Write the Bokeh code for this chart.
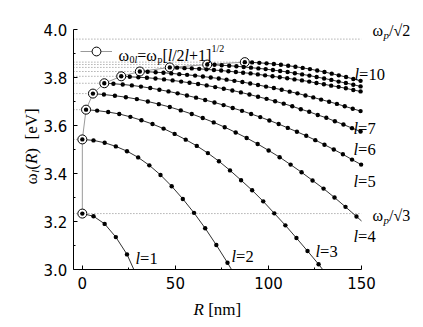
import math
from bokeh.plotting import figure
from bokeh.models import (Range1d, FixedTicker, PrintfTickFormatter, Label,
                          Legend, LegendItem)
from bokeh.embed import file_html
from bokeh.resources import INLINE

# ---------------- data ----------------
l_values = [1, 2, 3, 4, 5, 6, 7, 8, 9, 10]

R_l1 = [0, 6, 12, 18, 24, 30]
W_l1 = [3.233, 3.222, 3.190, 3.135, 3.063, 2.960]

R_l2 = [0, 6, 12, 18, 24, 30, 36, 42, 48, 54, 60, 66, 72, 78, 84]
W_l2 = [3.542, 3.538, 3.528, 3.513, 3.493, 3.467, 3.434, 3.394, 3.347,
        3.294, 3.236, 3.172, 3.102, 3.028, 2.950]

R_l3 = [2.0, 7.95, 13.9, 19.85, 25.8, 31.75, 37.7, 43.65, 49.6, 55.55, 61.5,
        67.45, 73.4, 79.35, 85.3, 91.25, 97.2, 103.15, 109.1, 115.05, 121.0,
        126.95, 132.9]
W_l3 = [3.666, 3.662, 3.656, 3.648, 3.636, 3.622, 3.606, 3.587, 3.565, 3.541,
        3.515, 3.485, 3.451, 3.413, 3.372, 3.330, 3.284, 3.234, 3.184, 3.131,
        3.077, 3.022, 2.962]

R_l4 = [5.7, 11.6, 17.5, 23.4, 29.3, 35.2, 41.1, 47.0, 52.9, 58.8, 64.7, 70.6,
        76.5, 82.4, 88.3, 94.2, 100.1, 106.0, 111.9, 117.8, 123.7, 129.6,
        135.5, 141.4, 147.3, 153.2]
W_l4 = [3.733, 3.729, 3.724, 3.718, 3.710, 3.700, 3.689, 3.677, 3.663, 3.648,
        3.631, 3.613, 3.593, 3.571, 3.548, 3.523, 3.496, 3.468, 3.437, 3.405,
        3.371, 3.337, 3.300, 3.261, 3.221, 3.180]

R_l5 = [11.8, 16.7, 21.7, 26.6, 31.5, 36.5, 41.4, 46.3, 51.2, 56.2, 61.1,
        66.0, 71.0, 75.9, 80.8, 85.8, 90.7, 95.6, 100.5, 105.5, 110.4, 115.3,
        120.3, 125.2, 130.1, 135.1, 140.0, 144.9, 149.8]
W_l5 = [3.776, 3.774, 3.771, 3.767, 3.762, 3.756, 3.749, 3.742, 3.734, 3.725,
        3.716, 3.706, 3.696, 3.685, 3.673, 3.661, 3.648, 3.635, 3.621, 3.606,
        3.590, 3.574, 3.557, 3.539, 3.520, 3.500, 3.480, 3.458, 3.437]

R_l6 = [20.9, 25.5, 30.1, 34.7, 39.3, 43.9, 48.5, 53.1, 57.6, 62.2, 66.8,
        71.4, 76.0, 80.6, 85.2, 89.8, 94.4, 99.0, 103.6, 108.2, 112.8, 117.4,
        121.9, 126.5, 131.1, 135.7, 140.3, 144.9, 149.5]
W_l6 = [3.805, 3.803, 3.801, 3.799, 3.796, 3.792, 3.788, 3.783, 3.778, 3.773,
        3.767, 3.760, 3.753, 3.746, 3.738, 3.729, 3.720, 3.711, 3.701, 3.691,
        3.680, 3.668, 3.657, 3.644, 3.632, 3.618, 3.604, 3.589, 3.575]

R_l7 = [30.9, 35.1, 39.4, 43.6, 47.8, 52.1, 56.3, 60.6, 64.8, 69.0, 73.3,
        77.5, 81.7, 86.0, 90.2, 94.4, 98.7, 102.9, 107.1, 111.4, 115.6, 119.9,
        124.1, 128.3, 132.6, 136.8, 141.0, 145.3, 149.5]
W_l7 = [3.825, 3.824, 3.822, 3.820, 3.817, 3.814, 3.811, 3.808, 3.804, 3.800,
        3.796, 3.791, 3.786, 3.781, 3.775, 3.769, 3.762, 3.756, 3.749, 3.741,
        3.734, 3.725, 3.717, 3.708, 3.699, 3.690, 3.680, 3.670, 3.660]

R_l8 = [47.0, 50.9, 54.9, 58.8, 62.8, 66.7, 70.7, 74.6, 78.5, 82.5, 86.4,
        90.4, 94.3, 98.2, 102.2, 106.1, 110.1, 114.0, 118.0, 121.9, 125.8,
        129.8, 133.7, 137.7, 141.6, 145.6, 149.5]
W_l8 = [3.842, 3.841, 3.839, 3.838, 3.836, 3.834, 3.831, 3.829, 3.826, 3.823,
        3.820, 3.817, 3.813, 3.809, 3.805, 3.801, 3.797, 3.792, 3.788, 3.783,
        3.777, 3.772, 3.766, 3.761, 3.755, 3.748, 3.742]

R_l9 = [67.1, 71.0, 74.9, 78.9, 82.8, 86.7, 90.6, 94.6, 98.5, 102.4, 106.3,
        110.3, 114.2, 118.1, 122.0, 125.9, 129.9, 133.8, 137.7, 141.6, 145.6,
        149.5]
W_l9 = [3.854, 3.853, 3.851, 3.849, 3.847, 3.844, 3.841, 3.838, 3.835, 3.831,
        3.827, 3.823, 3.818, 3.813, 3.808, 3.802, 3.796, 3.790, 3.783, 3.777,
        3.770, 3.763]

R_l10 = [87.3, 91.2, 95.1, 99.0, 102.9, 106.7, 110.6, 114.5, 118.4, 122.3,
         126.2, 130.1, 134.0, 137.8, 141.7, 145.6, 149.5]
W_l10 = [3.864, 3.863, 3.861, 3.859, 3.856, 3.853, 3.849, 3.845, 3.840, 3.835,
         3.829, 3.823, 3.816, 3.809, 3.802, 3.794, 3.786]

# omega_0l = omega_p [l/(2l+1)]^(1/2) and the radius where each is marked
omega0 = [3.233, 3.542, 3.666, 3.733, 3.776, 3.805, 3.825, 3.842, 3.854, 3.864]
R_circ = [0.0, 0.0, 2.0, 5.7, 11.8, 20.9, 30.9, 47.0, 67.1, 87.3]
wp_sqrt2 = 3.960
wp_sqrt3 = 3.233

x_ticks = [0, 50, 100, 150]
x_minor = [25, 75, 125]
y_ticks = [3.0, 3.2, 3.4, 3.6, 3.8, 4.0]
y_minor = [3.1, 3.3, 3.5, 3.7, 3.9]

curves_R = [R_l1, R_l2, R_l3, R_l4, R_l5, R_l6, R_l7, R_l8, R_l9, R_l10]
curves_W = [W_l1, W_l2, W_l3, W_l4, W_l5, W_l6, W_l7, W_l8, W_l9, W_l10]

# ---------------- layout ----------------
X_START, X_END = -4.8, 150.0
Y_START, Y_END = 3.0, 4.0
W, H = 418, 322
# pixel box of the axes inside the canvas
AX_L, AX_R, AX_T, AX_B = 72.9, 361.0, 29.0, 269.0
SX = (AX_R - AX_L) / (X_END - X_START)
SY = (AX_B - AX_T) / (Y_END - Y_START)
SERIF = "Liberation Serif"
SANS = "DejaVu Sans"


def px2x(px):
    return X_START + (px - AX_L) / SX


def px2y(py):
    return Y_END - (py - AX_T) / SY


p = figure(width=W, height=H,
           x_range=Range1d(px2x(0), px2x(W)), y_range=Range1d(px2y(H), px2y(0)),
           output_backend="svg", toolbar_location=None, title=None,
           min_border=0)
p.outline_line_color = None
p.grid.visible = False
p.background_fill_color = "white"
p.border_fill_color = "white"

for ax in (p.xaxis, p.yaxis):
    ax.axis_line_color = "black"
    ax.axis_line_width = 1
    ax.major_tick_line_color = "black"
    ax.minor_tick_line_color = "black"
    ax.major_tick_in = 4
    ax.major_tick_out = 0
    ax.minor_tick_in = 2
    ax.minor_tick_out = 0
    ax.major_label_text_font = SANS
    ax.major_label_text_font_size = "15px"
    ax.major_label_text_color = "black"

p.xaxis.ticker = FixedTicker(ticks=x_ticks, minor_ticks=x_minor)
p.yaxis.ticker = FixedTicker(ticks=y_ticks, minor_ticks=y_minor)
p.yaxis.formatter = PrintfTickFormatter(format="%.1f")
p.xaxis.fixed_location = Y_START
p.yaxis.fixed_location = X_START
p.xaxis.bounds = (X_START, X_END)
p.yaxis.bounds = (Y_START, Y_END)
p.xaxis.major_label_standoff = 7
p.yaxis.major_label_standoff = 6


def clip_curve(Rs, Ws):
    """Keep the part of a curve inside the axes box; cut the last segment."""
    xs, ys = [], []
    for i, (r, w) in enumerate(zip(Rs, Ws)):
        if X_START <= r <= X_END and Y_START <= w <= Y_END:
            xs.append(r)
            ys.append(w)
        else:
            r0, w0 = Rs[i - 1], Ws[i - 1]
            t = 1.0
            if w < Y_START:
                t = min(t, (w0 - Y_START) / (w0 - w))
            if r > X_END:
                t = min(t, (X_END - r0) / (r - r0))
            xs.append(r0 + t * (r - r0))
            ys.append(w0 + t * (w - w0))
            break
    return xs, ys


def inside(Rs, Ws):
    pts = [(r, w) for r, w in zip(Rs, Ws)
           if X_START <= r <= X_END and Y_START <= w <= Y_END]
    return [a for a, _ in pts], [b for _, b in pts]


DOT_GRAY = "#8a8a8a"
# dotted reference lines
p.segment(x0=[X_START] * 9, y0=omega0[1:], x1=R_circ[1:], y1=omega0[1:],
          line_color=DOT_GRAY, line_width=1, line_dash="1 2")
p.segment(x0=[X_START, X_START], y0=[wp_sqrt2, wp_sqrt3],
          x1=[X_END, X_END], y1=[wp_sqrt2, wp_sqrt3],
          line_color=DOT_GRAY, line_width=1, line_dash="1 2")

# gray line through omega_0l markers
conn = p.line(R_circ, omega0, line_color="#9a9a9a", line_width=1)

# curves
for Rs, Ws in zip(curves_R, curves_W):
    cx, cy = clip_curve(Rs, Ws)
    p.line(cx, cy, line_color="#1a1a1a", line_width=0.9)

circ = p.scatter(R_circ, omega0, marker="circle", size=9, fill_color="white",
                 line_color="black", line_width=1)

for Rs, Ws in zip(curves_R, curves_W):
    dx, dy = inside(Rs, Ws)
    p.scatter(dx, dy, marker="circle", size=4.4, fill_color="black",
              line_color="black", line_width=0)

legend = Legend(items=[LegendItem(label=" ", renderers=[conn, circ])],
                location=(80, H - 62), glyph_width=32, glyph_height=22,
                label_height=22, label_width=1, label_text_font_size="1px",
                padding=0, spacing=0, margin=0, border_line_color=None,
                background_fill_alpha=0)
p.add_layout(legend)

# ---------------- text ----------------
CW = {'ω': 0.69, 'l': 0.278, '0': 0.5, '1': 0.5, '2': 0.5, '3': 0.5,
      '4': 0.5, '5': 0.5, '6': 0.5, '7': 0.5, '=': 0.564, 'p': 0.5,
      '[': 0.333, ']': 0.333, '/': 0.278, '+': 0.564, '√': 0.55, '(': 0.333,
      ')': 0.333, 'R': 0.611, ' ': 0.25, 'e': 0.444, 'V': 0.722, 'n': 0.5,
      'm': 0.778}


def tw(s, size):
    return sum(CW.get(c, 0.5) for c in s) * size


def place(pieces, x_px, y_px, vertical=False):
    cur = 0.0
    for text, size, italic, shift in pieces:
        if text.strip():
            if vertical:
                lx, ly, ang = px2x(x_px + shift), px2y(y_px - cur), math.pi / 2
            else:
                lx, ly, ang = px2x(x_px + cur), px2y(y_px + shift), 0
            p.add_layout(Label(x=lx, y=ly, text=text, text_font=SERIF,
                               text_font_size=f"{size}px",
                               text_font_style="italic" if italic else "normal",
                               angle=ang, text_align="left",
                               text_baseline="alphabetic", text_color="black"))
        cur += tw(text, size)


# right-hand labels
place([("ω", 16, False, 0), ("p", 11, True, 4), ("/√2", 16, False, 0)], 372, 30)
place([("ω", 16, False, 0), ("p", 11, True, 4), ("/√3", 16, False, 0)], 372, 215)
curve_label_pos = {10: (354, 74), 7: (353, 128), 6: (353, 149), 5: (353, 181),
                   4: (353, 236), 1: (135, 258), 2: (231, 256), 3: (315, 251)}
for l_val, (lx, ly) in curve_label_pos.items():
    place([("l", 16.5, True, 0), ("=" + str(l_val), 16.5, False, 0)], lx, ly)

# legend formula
place([("ω", 16, False, 0), ("0", 10, False, 3.5), ("l", 10, True, 3.5),
       ("=", 16, False, 0), ("ω", 16, False, 0), ("p", 10, False, 3.5),
       ("[", 16, False, 0), ("l", 16, True, 0), ("/2", 16, False, 0),
       ("l", 16, True, 0), ("+1]", 16, False, 0), ("1/2", 10, False, -7)],
      118, 55)

# axis titles
place([("R", 17, True, 0), (" ", 17, False, 0), ("[nm]", 17, False, 0)],
      193, 309)
place([("ω", 17, False, 0), ("l", 11, True, 3), ("(", 17, False, 0),
       ("R", 17, True, 0), (")", 17, False, 0), ("  ", 17, False, 0),
       ("[eV]", 17, False, 0)], 31, 184, vertical=True)

open("out.html", "w").write(file_html(p, INLINE))
